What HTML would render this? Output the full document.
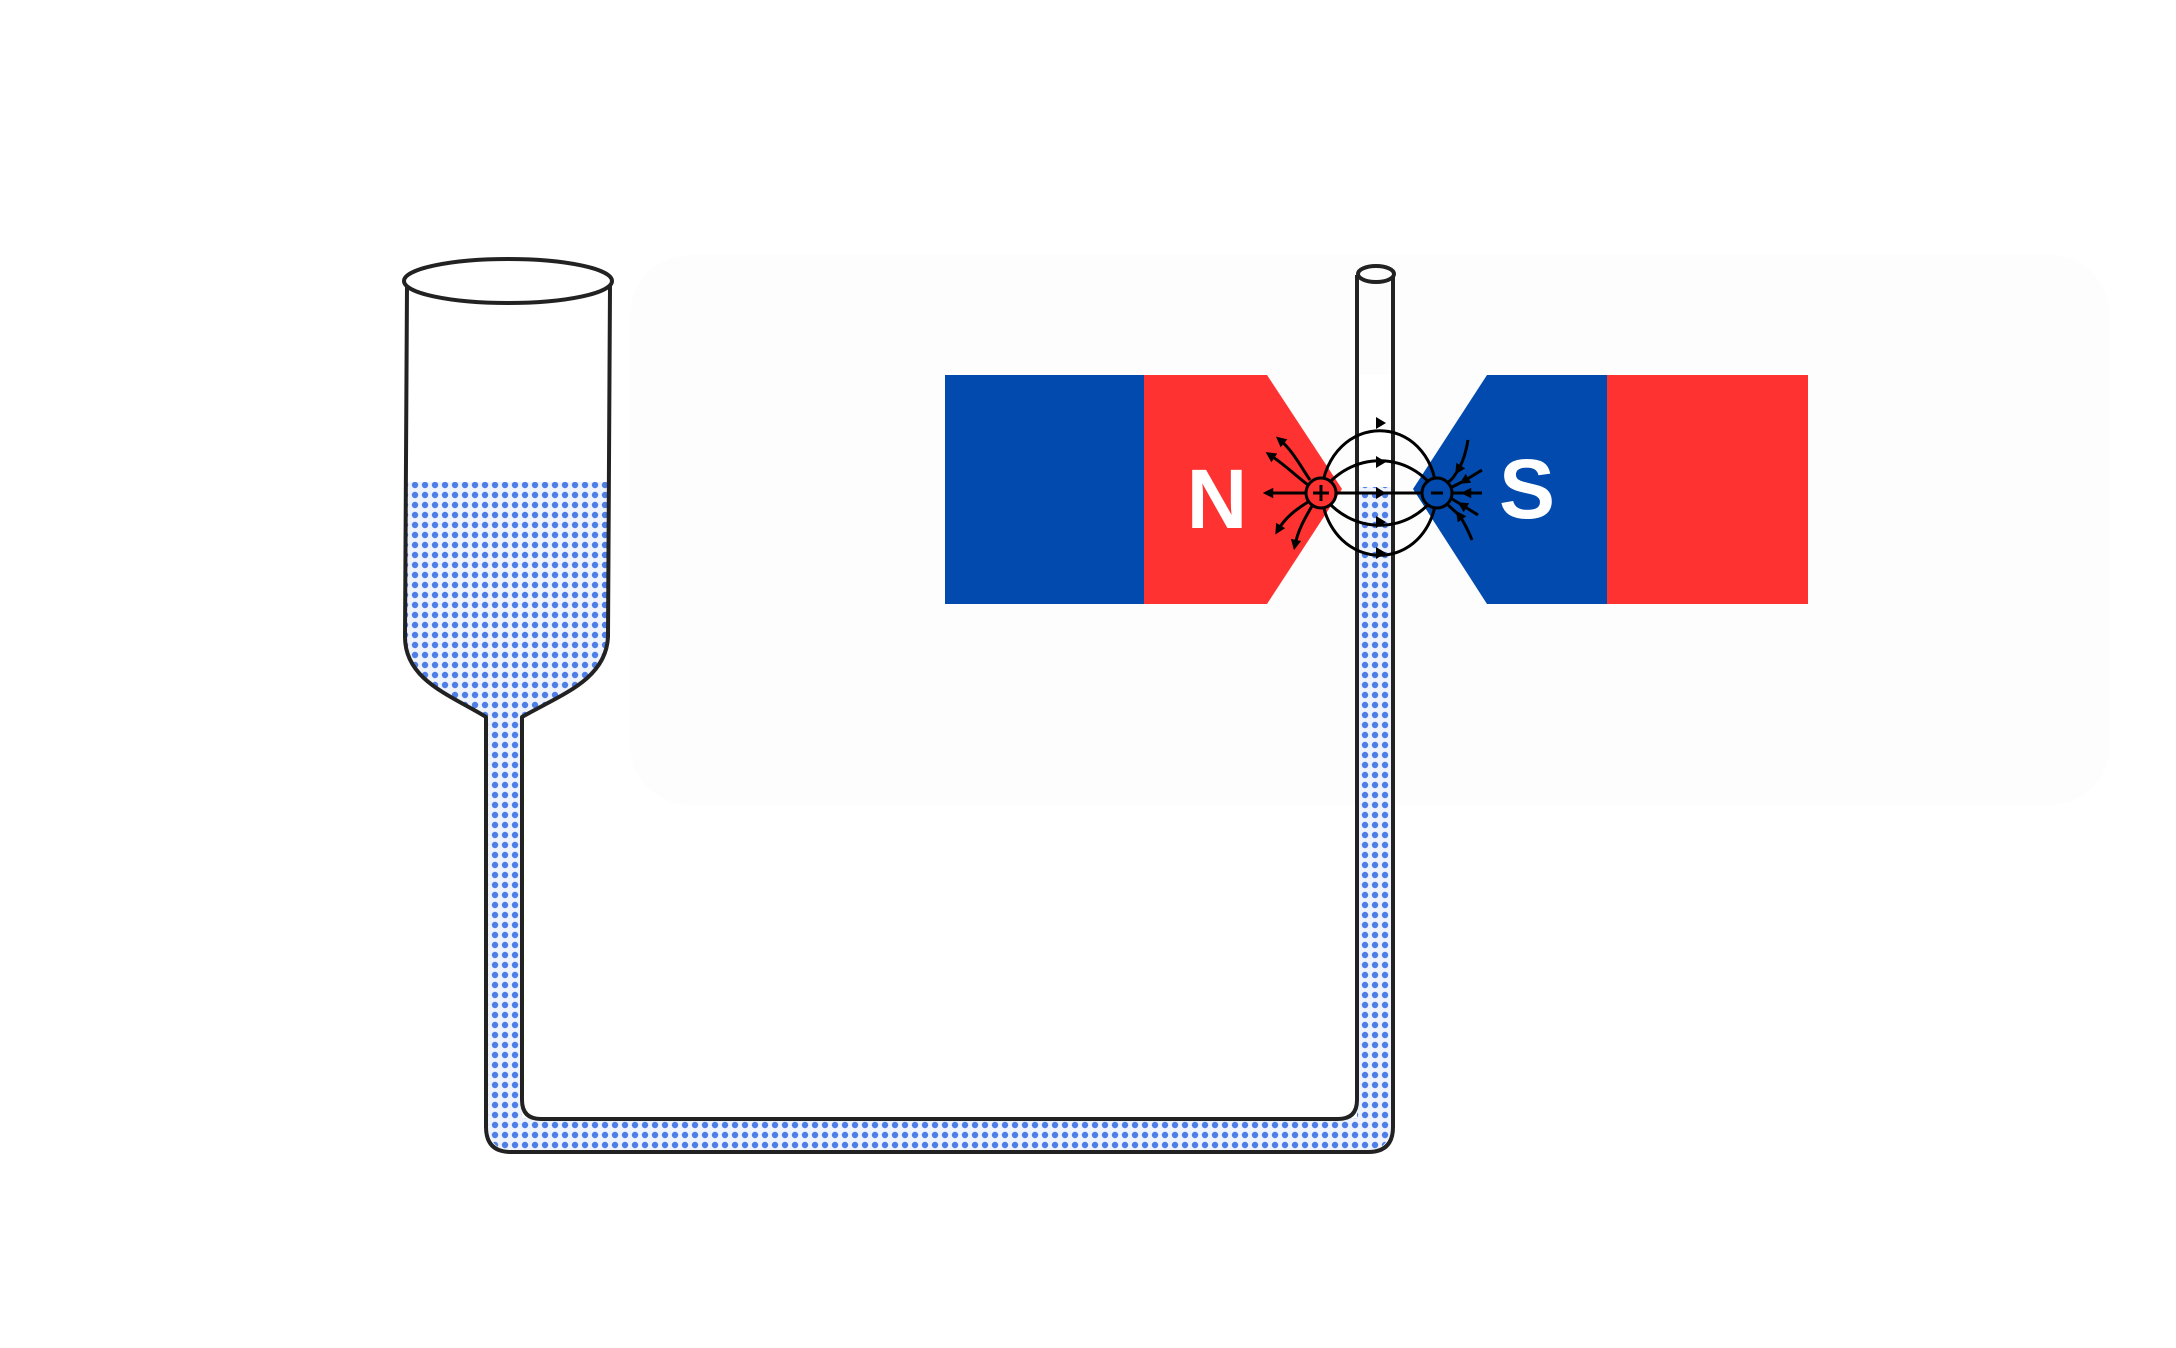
<!DOCTYPE html>
<html><head><style>html,body{margin:0;padding:0;background:#fff}svg{display:block}</style></head>
<body>
<svg width="2176" height="1348" viewBox="0 0 2176 1348" xmlns="http://www.w3.org/2000/svg">
<defs>
<pattern id="dots" width="10" height="10" patternUnits="userSpaceOnUse">
<rect width="10" height="10" fill="#eef3fd"/>
<circle cx="5" cy="5" r="3.2" fill="#4f7fe6"/>
</pattern>
<marker id="ar" viewBox="0 0 10 10" refX="5" refY="5" markerWidth="3.5" markerHeight="3.5" orient="auto"><path d="M0,0 L10,5 L0,10 z" fill="#000"/></marker>
</defs>
<rect width="2176" height="1348" fill="#fff"/>
<rect x="630" y="255" width="1480" height="550" rx="60" fill="#fdfdfd"/>

<path d="M407,482 L609,482 L608,637 C606,680 560,695 522,717 L522,760 L486,760 L486,717 C450,695 405,680 405,637 Z" fill="url(#dots)"/>
<path d="M504,717 L504,1120 Q504,1136 520,1136 L1359,1136 Q1375,1136 1375,1120 L1375,487" fill="none" stroke="url(#dots)" stroke-width="36"/>

<g fill="none" stroke="#222" stroke-width="4" stroke-linejoin="round">
<path d="M407,286 L405,637 C405,680 450,695 486,717 L486,1127 Q486,1152 511,1152 L1368,1152 Q1393,1152 1393,1127 L1393,275"/>
<path d="M610,286 L608,637 C606,680 560,695 522,717 L522,1100 Q522,1119 541,1119 L1338,1119 Q1357,1119 1357,1100 L1357,275"/>
<ellipse cx="508" cy="281" rx="104" ry="22" fill="#fff"/>
<ellipse cx="1376" cy="274" rx="18" ry="8" fill="#fff"/>
</g>

<rect x="945" y="375" width="200" height="229" fill="#024aad"/>
<path d="M1144,375 L1267,375 L1342,489 L1267,604 L1144,604 Z" fill="#ff3232"/>
<path d="M1608,375 L1487,375 L1413,489 L1487,604 L1608,604 Z" fill="#024aad"/>
<rect x="1607" y="375" width="201" height="229" fill="#ff3232"/>
<rect x="1359" y="375" width="32" height="112" fill="#fff"/>
<rect x="1359" y="487" width="32" height="117" fill="url(#dots)"/>
<g stroke="#222" stroke-width="4"><line x1="1357" y1="370" x2="1357" y2="610"/><line x1="1393" y1="370" x2="1393" y2="610"/></g>

<text x="1217" y="528" font-family="Liberation Sans, sans-serif" font-weight="bold" font-size="84" fill="#fff" text-anchor="middle">N</text>
<text x="1527" y="518" font-family="Liberation Sans, sans-serif" font-weight="bold" font-size="84" fill="#fff" text-anchor="middle">S</text>

<g fill="none" stroke="#000" stroke-width="3">
<path d="M1321,493 C1330,410 1430,410 1437,493" />
<path d="M1321,493 C1330,576 1430,576 1437,493" />
<path d="M1321,493 C1350,450 1410,450 1437,493" />
<path d="M1321,493 C1350,536 1410,536 1437,493" />
<line x1="1321" y1="493" x2="1437" y2="493"/>
<path d="M1306,493 L1268,493" marker-end="url(#ar)"/>
<path d="M1308,485 C1295,475 1285,465 1270,455" marker-end="url(#ar)"/>
<path d="M1310,480 C1300,465 1292,450 1280,440" marker-end="url(#ar)"/>
<path d="M1308,502 C1295,510 1285,518 1278,530" marker-end="url(#ar)"/>
<path d="M1312,506 C1305,518 1298,530 1295,545" marker-end="url(#ar)"/>
<path d="M1482,493 L1466,493" marker-end="url(#ar)"/>
<path d="M1466,493 L1452,493"/>
<path d="M1468,440 C1466,452 1463,462 1458,470" marker-end="url(#ar)"/>
<path d="M1458,470 C1455,475 1452,480 1448,482"/>
<path d="M1482,470 L1464,481" marker-end="url(#ar)"/>
<path d="M1464,481 L1452,487"/>
<path d="M1478,515 L1462,505" marker-end="url(#ar)"/>
<path d="M1462,505 L1452,499"/>
<path d="M1472,540 C1468,530 1464,522 1459,515" marker-end="url(#ar)"/>
<path d="M1459,515 L1448,505"/>
</g>
<g fill="#000">
<path d="M1386,423 l-10,-6 v12z"/>
<path d="M1386,462 l-10,-6 v12z"/>
<path d="M1386,493 l-10,-6 v12z"/>
<path d="M1386,522 l-10,-6 v12z"/>
<path d="M1386,553 l-10,-6 v12z"/>
</g>
<circle cx="1321" cy="493" r="15" fill="#ff3232" stroke="#000" stroke-width="3"/>
<path d="M1313,493 h16 M1321,485 v16" stroke="#000" stroke-width="3"/>
<circle cx="1437" cy="493" r="15" fill="#024aad" stroke="#000" stroke-width="3"/>
<path d="M1431,493 h12" stroke="#000" stroke-width="3"/>
</svg>
</body></html>
